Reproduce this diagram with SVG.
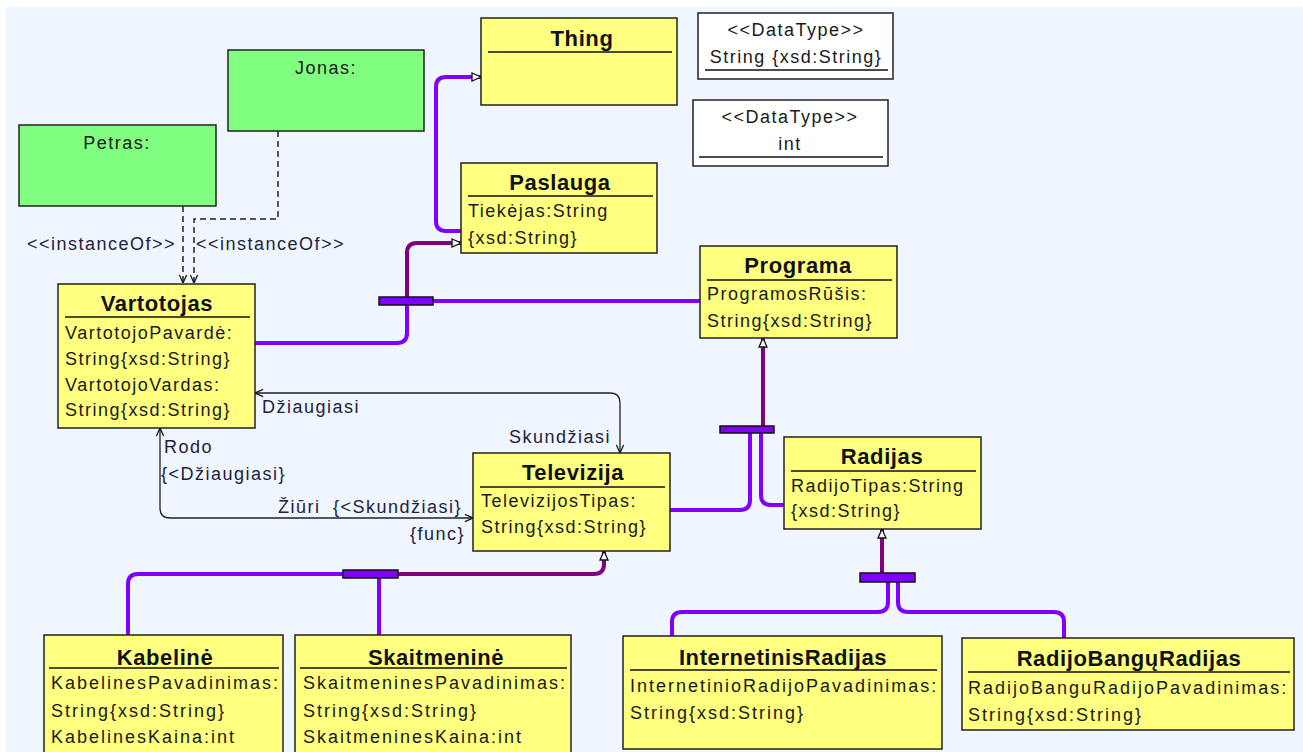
<svg xmlns="http://www.w3.org/2000/svg" width="1303" height="752" viewBox="0 0 1303 752">
  <defs>
    <style>
      .cls { fill: #FFFF80; stroke: #222; stroke-width: 1.5; }
      .obj { fill: #80FF80; stroke: #222; stroke-width: 1.5; }
      .dt { fill: #FFFFFF; stroke: #222; stroke-width: 1.5; }
      .sep { stroke: #111; stroke-width: 1.3; }
      .title { font-family: "Liberation Sans", Arial, sans-serif; font-weight: bold; font-size: 22px; letter-spacing: 0.6px; fill: #111; text-anchor: middle; }
      .attr { font-family: "Liberation Sans", Arial, sans-serif; font-size: 18px; letter-spacing: 1.5px; fill: #1a1a1a; }
      .wide { letter-spacing: 2px; }
      .mid { text-anchor: middle; }
      .lbl { font-family: "Liberation Sans", Arial, sans-serif; font-size: 18px; letter-spacing: 1.5px; fill: #222240; }
      .sub { fill: none; stroke: #8000FF; stroke-width: 4; }
      .sup { fill: none; stroke: #800080; stroke-width: 4; }
      .bar { fill: #8000FF; stroke: #111; stroke-width: 1.5; }
      .assoc { fill: none; stroke: #222; stroke-width: 1.3; }
      .inst { fill: none; stroke: #222; stroke-width: 1.5; stroke-dasharray: 6 4; }
    </style>
    <marker id="gen" viewBox="0 0 10 10" refX="10" refY="5" markerWidth="10" markerHeight="10" markerUnits="userSpaceOnUse" orient="auto">
      <path d="M1,1 L10,5 L1,9 Z" fill="#FFFFFF" stroke="#111" stroke-width="1.3"/>
    </marker>
    <marker id="open" viewBox="0 0 10 10" refX="10" refY="5" markerWidth="9" markerHeight="9" markerUnits="userSpaceOnUse" orient="auto-start-reverse">
      <path d="M1,1 L10,5 L1,9" fill="none" stroke="#111" stroke-width="1.4"/>
    </marker>
  </defs>

  <!-- canvas -->
  <rect x="0" y="0" width="1303" height="752" fill="#FFFFFF"/>
  <rect x="6" y="7" width="1297" height="745" fill="#EFF6FF"/>

  <!-- connectors -->
  <g id="connectors">
    <!-- Paslauga is a Thing -->
    <path class="sub" d="M461,231 H446 Q436,231 436,221 V87 Q436,77 446,77 H481" marker-end="url(#gen)"/>

    <!-- Vartotojas, Programa are Paslauga -->
    <path class="sup" d="M407,297 V253 Q407,243 417,243 H461" marker-end="url(#gen)"/>
    <path class="sub" d="M255,343 H397 Q407,343 407,333 V305"/>
    <path class="sub" d="M433,301 H700"/>
    <rect class="bar" x="379" y="297" width="54" height="8"/>

    <!-- Televizija, Radijas are Programa -->
    <path class="sup" d="M763,426 V338" marker-end="url(#gen)"/>
    <path class="sub" d="M670,510 H740 Q750,510 750,500 V433"/>
    <path class="sub" d="M761,433 V495 Q761,505 771,505 H784"/>
    <rect class="bar" x="720" y="426" width="54" height="7"/>

    <!-- Kabeline, Skaitmenine are Televizija -->
    <path class="sup" d="M398,574 H594 Q604,574 604,564 V551" marker-end="url(#gen)"/>
    <path class="sub" d="M343,574 H138 Q128,574 128,584 V635"/>
    <path class="sub" d="M379,578 V635"/>
    <rect class="bar" x="343" y="570" width="55" height="8"/>

    <!-- InternetinisRadijas, RadijoBanguRadijas are Radijas -->
    <path class="sup" d="M882,573 V529" marker-end="url(#gen)"/>
    <path class="sub" d="M888,582 V602 Q888,612 878,612 H682 Q672,612 672,622 V636"/>
    <path class="sub" d="M898,582 V602 Q898,612 908,612 H1054 Q1064,612 1064,622 V638"/>
    <rect class="bar" x="860" y="573" width="55" height="9"/>

    <!-- associations -->
    <path class="assoc" d="M255,393 H610 Q620,393 620,403 V453" marker-start="url(#open)" marker-end="url(#open)"/>
    <path class="assoc" d="M160,428 V508 Q160,518 170,518 H473" marker-start="url(#open)" marker-end="url(#open)"/>

    <!-- instanceOf -->
    <path class="inst" d="M183,206 V283" marker-end="url(#open)"/>
    <path class="inst" d="M278,131 V219 H194 V283" marker-end="url(#open)"/>

    <!-- connector labels -->
    <text class="lbl" x="27" y="250">&lt;&lt;instanceOf&gt;&gt;</text>
    <text class="lbl" x="196" y="250">&lt;&lt;instanceOf&gt;&gt;</text>
    <text class="lbl" x="262" y="413">Džiaugiasi</text>
    <text class="lbl" x="509" y="443">Skundžiasi</text>
    <text class="lbl" x="164" y="453">Rodo</text>
    <text class="lbl" x="161" y="480">{&lt;Džiaugiasi}</text>
    <text class="lbl" x="278" y="513">Žiūri</text>
    <text class="lbl" x="333" y="513">{&lt;Skundžiasi}</text>
    <text class="lbl" x="410" y="540">{func}</text>
  </g>

  <!-- individuals -->
  <g id="jonas">
    <rect class="obj" x="228" y="50" width="196" height="81"/>
    <text class="attr mid" x="326" y="74">Jonas:</text>
  </g>
  <g id="petras">
    <rect class="obj" x="19" y="125" width="197" height="81"/>
    <text class="attr mid" x="117" y="149">Petras:</text>
  </g>

  <!-- datatypes -->
  <g id="dt-string">
    <rect class="dt" x="698" y="13" width="195" height="66"/>
    <text class="attr mid" x="796" y="36">&lt;&lt;DataType&gt;&gt;</text>
    <text class="attr mid" x="796" y="63">String {xsd:String}</text>
    <line class="sep" x1="705" y1="70" x2="888" y2="70"/>
  </g>
  <g id="dt-int">
    <rect class="dt" x="693" y="100" width="195" height="66"/>
    <text class="attr mid" x="790" y="123">&lt;&lt;DataType&gt;&gt;</text>
    <text class="attr mid" x="790" y="150">int</text>
    <line class="sep" x1="699" y1="157" x2="883" y2="157"/>
  </g>

  <!-- classes -->
  <g id="thing">
    <rect class="cls" x="481" y="18" width="196" height="87"/>
    <text class="title" x="582" y="46">Thing</text>
    <line class="sep" x1="488" y1="52" x2="672" y2="52"/>
  </g>

  <g id="paslauga">
    <rect class="cls" x="461" y="163" width="196" height="90"/>
    <text class="title" x="560" y="190">Paslauga</text>
    <line class="sep" x1="468" y1="196" x2="653" y2="196"/>
    <text class="attr" x="468" y="217">Tiekėjas:String</text>
    <text class="attr" x="468" y="244">{xsd:String}</text>
  </g>

  <g id="programa">
    <rect class="cls" x="700" y="246" width="197" height="92"/>
    <text class="title" x="798" y="273">Programa</text>
    <line class="sep" x1="707" y1="280" x2="892" y2="280"/>
    <text class="attr" x="707" y="300">ProgramosRūšis:</text>
    <text class="attr" x="707" y="327">String{xsd:String}</text>
  </g>

  <g id="vartotojas">
    <rect class="cls" x="58" y="284" width="197" height="144"/>
    <text class="title" x="157" y="311">Vartotojas</text>
    <line class="sep" x1="65" y1="317" x2="250" y2="317"/>
    <text class="attr" x="65" y="339">VartotojoPavardė:</text>
    <text class="attr" x="65" y="365">String{xsd:String}</text>
    <text class="attr" x="65" y="391">VartotojoVardas:</text>
    <text class="attr" x="65" y="416">String{xsd:String}</text>
  </g>

  <g id="televizija">
    <rect class="cls" x="473" y="453" width="197" height="98"/>
    <text class="title" x="573" y="480">Televizija</text>
    <line class="sep" x1="480" y1="487" x2="665" y2="487"/>
    <text class="attr" x="481" y="507">TelevizijosTipas:</text>
    <text class="attr" x="481" y="533">String{xsd:String}</text>
  </g>

  <g id="radijas">
    <rect class="cls" x="784" y="437" width="197" height="92"/>
    <text class="title" x="882" y="464">Radijas</text>
    <line class="sep" x1="791" y1="471" x2="976" y2="471"/>
    <text class="attr" x="791" y="492">RadijoTipas:String</text>
    <text class="attr" x="791" y="517">{xsd:String}</text>
  </g>

  <g id="kabeline">
    <rect class="cls" x="44" y="635" width="239" height="130"/>
    <text class="title" x="165" y="665">Kabelinė</text>
    <line class="sep" x1="49" y1="668" x2="279" y2="668"/>
    <text class="attr wide" x="51" y="689">KabelinesPavadinimas:</text>
    <text class="attr wide" x="51" y="717">String{xsd:String}</text>
    <text class="attr wide" x="51" y="743">KabelinesKaina:int</text>
  </g>

  <g id="skaitmenine">
    <rect class="cls" x="295" y="635" width="276" height="130"/>
    <text class="title" x="436" y="665">Skaitmeninė</text>
    <line class="sep" x1="300" y1="668" x2="567" y2="668"/>
    <text class="attr wide" x="303" y="689">SkaitmeninesPavadinimas:</text>
    <text class="attr wide" x="303" y="717">String{xsd:String}</text>
    <text class="attr wide" x="303" y="743">SkaitmeninesKaina:int</text>
  </g>

  <g id="internetinis-radijas">
    <rect class="cls" x="623" y="636" width="319" height="113"/>
    <text class="title" x="783" y="665">InternetinisRadijas</text>
    <line class="sep" x1="630" y1="670" x2="937" y2="670"/>
    <text class="attr wide" x="630" y="692">InternetinioRadijoPavadinimas:</text>
    <text class="attr wide" x="630" y="719">String{xsd:String}</text>
  </g>

  <g id="radijo-bangu-radijas">
    <rect class="cls" x="962" y="638" width="332" height="92"/>
    <text class="title" x="1129" y="666">RadijoBangųRadijas</text>
    <line class="sep" x1="968" y1="672" x2="1290" y2="672"/>
    <text class="attr wide" x="968" y="694">RadijoBanguRadijoPavadinimas:</text>
    <text class="attr wide" x="968" y="721">String{xsd:String}</text>
  </g>
</svg>
